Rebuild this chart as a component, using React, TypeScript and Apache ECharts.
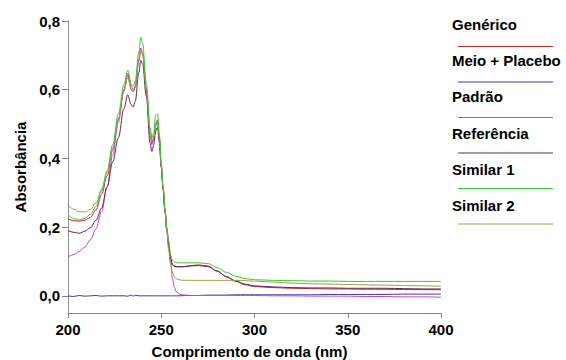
import React, { useEffect, useRef } from "react";
import * as echarts from "echarts";

const wavelengths = [200, 203, 206, 209, 212, 215, 218, 221, 224, 227, 230, 232, 234, 235, 236, 238, 239, 240, 242, 244, 245, 246, 247, 248, 249, 250, 251, 252, 253, 254, 255, 256, 257, 258, 260, 263, 266, 270, 275, 280, 285, 290, 295, 300, 310, 320, 330, 340, 350, 360, 370, 380, 390, 400];

const generico = [0.224, 0.219, 0.217, 0.22, 0.228, 0.25, 0.295, 0.35, 0.425, 0.515, 0.6, 0.643, 0.6, 0.594, 0.605, 0.685, 0.72, 0.705, 0.6, 0.475, 0.445, 0.458, 0.5, 0.512, 0.46, 0.38, 0.315, 0.25, 0.195, 0.15, 0.11, 0.092, 0.087, 0.085, 0.085, 0.086, 0.088, 0.09, 0.087, 0.072, 0.055, 0.042, 0.032, 0.027, 0.024, 0.022, 0.021, 0.02, 0.02, 0.019, 0.019, 0.018, 0.018, 0.0175];

const meioPlacebo = [0.0, -0.002, 0.001, -0.001, 0.0, 0.001, -0.001, 0.0, 0.0, 0.0, 0.0, -0.001, 0.002, -0.001, 0.002, 0.0, 0.0, 0.0, 0.0, 0.0, 0.0, 0.0, 0.0, 0.0, 0.0, 0.0, 0.0, 0.0, 0.0, 0.0, 0.0, 0.0, 0.0, 0.0, 0.0, 0.001, 0.001, 0.001, 0.002, 0.002, 0.002, 0.003, 0.003, 0.003, 0.003, 0.003, 0.003, 0.004, 0.004, 0.004, 0.004, 0.005, 0.005, 0.005];

const padrao = [0.113, 0.12, 0.129, 0.142, 0.163, 0.195, 0.245, 0.318, 0.41, 0.505, 0.6, 0.648, 0.61, 0.6, 0.61, 0.69, 0.72, 0.705, 0.6, 0.47, 0.44, 0.455, 0.495, 0.505, 0.455, 0.375, 0.31, 0.245, 0.19, 0.145, 0.1, 0.05, 0.025, 0.012, 0.004, 0.002, 0.001, 0.001, 0.001, 0.001, 0.001, 0.001, 0.001, 0.001, 0.0, 0.0, -0.001, -0.001, -0.001, -0.002, -0.002, -0.003, -0.003, -0.004];

const referencia = [0.19, 0.185, 0.182, 0.188, 0.198, 0.22, 0.255, 0.318, 0.39, 0.46, 0.545, 0.585, 0.555, 0.55, 0.565, 0.65, 0.685, 0.675, 0.58, 0.445, 0.42, 0.44, 0.48, 0.49, 0.445, 0.375, 0.31, 0.245, 0.19, 0.145, 0.108, 0.09, 0.086, 0.085, 0.084, 0.085, 0.087, 0.088, 0.085, 0.072, 0.056, 0.043, 0.034, 0.029, 0.026, 0.024, 0.023, 0.023, 0.022, 0.022, 0.022, 0.021, 0.02, 0.02];

const similar1 = [0.236, 0.225, 0.221, 0.225, 0.238, 0.26, 0.31, 0.365, 0.44, 0.53, 0.615, 0.657, 0.615, 0.61, 0.625, 0.71, 0.753, 0.735, 0.62, 0.49, 0.46, 0.475, 0.525, 0.53, 0.47, 0.385, 0.32, 0.255, 0.2, 0.16, 0.12, 0.103, 0.099, 0.097, 0.096, 0.096, 0.096, 0.096, 0.094, 0.082, 0.068, 0.057, 0.05, 0.047, 0.045, 0.044, 0.043, 0.043, 0.042, 0.042, 0.042, 0.042, 0.042, 0.042];

const similar2 = [0.265, 0.252, 0.245, 0.244, 0.252, 0.27, 0.305, 0.36, 0.43, 0.515, 0.595, 0.635, 0.6, 0.595, 0.608, 0.685, 0.715, 0.702, 0.6, 0.475, 0.45, 0.462, 0.5, 0.508, 0.458, 0.38, 0.315, 0.25, 0.19, 0.13, 0.09, 0.068, 0.056, 0.05, 0.046, 0.045, 0.045, 0.045, 0.045, 0.045, 0.045, 0.045, 0.044, 0.043, 0.04, 0.037, 0.035, 0.034, 0.033, 0.032, 0.031, 0.03, 0.029, 0.028];

const seriesNames = ["Genérico", "Meio + Placebo", "Padrão", "Referência", "Similar 1", "Similar 2"];
const seriesValues = [generico, meioPlacebo, padrao, referencia, similar1, similar2];
const seriesColors = ["#cc2222", "#3a3aa8", "#d040d0", "#5a2a55", "#33cc33", "#a0a040"];

const xTicks = [200, 250, 300, 350, 400];
const yTicks = [0, 0.2, 0.4, 0.6, 0.8];

const FONT = "'Liberation Sans', Arial, sans-serif";

export default function App() {
  const ref = useRef<HTMLDivElement>(null);
  useEffect(() => {
    if (!ref.current) return;
    const chart = echarts.init(ref.current, null, { renderer: "svg" });

    const series = seriesNames.map((name, k) => ({
      name,
      type: "line",
      data: wavelengths.map((w, i) => [w, seriesValues[k][i]]),
      showSymbol: false,
      smooth: 0.35,
      smoothMonotone: "x",
      lineStyle: { color: seriesColors[k], width: 1 },
      itemStyle: { color: seriesColors[k] },
      z: [2, 1, 2, 2, 3, 2][k],
    }));

    const legendGraphics: any[] = [];
    seriesNames.forEach((name, k) => {
      const ty = 26 + k * 36.2;
      const ly = 46.5 + k * 35.5;
      legendGraphics.push({
        type: "text",
        left: 452,
        top: ty - 9,
        style: { text: name, font: `bold 15px ${FONT}`, fill: "#000" },
      });
      legendGraphics.push({
        type: "line",
        shape: { x1: 458, y1: ly, x2: 553, y2: ly },
        style: { stroke: seriesColors[k], lineWidth: 1 },
      });
    });

    chart.setOption({
      animation: false,
      backgroundColor: "#fff",
      grid: { left: 68, right: 125, top: 21, bottom: 47, containLabel: false, outerBoundsMode: "none" },
      xAxis: {
        type: "value",
        min: 200,
        max: 400,
        interval: 50,
        name: "Comprimento de onda (nm)",
        nameLocation: "middle",
        nameGap: 31,
        nameTextStyle: { fontFamily: FONT, fontWeight: "bold", fontSize: 15, color: "#000", padding: [0, 10, 0, 0] },
        axisLine: { onZero: false, lineStyle: { color: "#808080", width: 1 } },
        axisTick: { show: true, length: 5, lineStyle: { color: "#808080" } },
        axisLabel: { fontFamily: FONT, fontWeight: "bold", fontSize: 15, color: "#000", margin: 9, customValues: xTicks },
        splitLine: { show: false },
      },
      yAxis: {
        type: "value",
        min: -0.05,
        max: 0.8,
        name: "Absorbância",
        nameLocation: "middle",
        nameGap: 39,
        nameTextStyle: { fontFamily: FONT, fontWeight: "bold", fontSize: 15, color: "#000" },
        axisLine: { show: true, lineStyle: { color: "#909090", width: 1 } },
        axisTick: { show: true, length: 6, lineStyle: { color: "#808080" }, customValues: yTicks },
        axisLabel: {
          fontFamily: FONT,
          fontWeight: "bold",
          fontSize: 15,
          color: "#000",
          margin: 8,
          customValues: yTicks,
          formatter: (v: number) => v.toFixed(1).replace(".", ","),
        },
        splitLine: { show: false },
      },
      series,
      graphic: legendGraphics,
    });
    return () => chart.dispose();
  }, []);
  return <div ref={ref} style={{ position: "absolute", left: 0, top: 0, width: 566, height: 360 }} />;
}
